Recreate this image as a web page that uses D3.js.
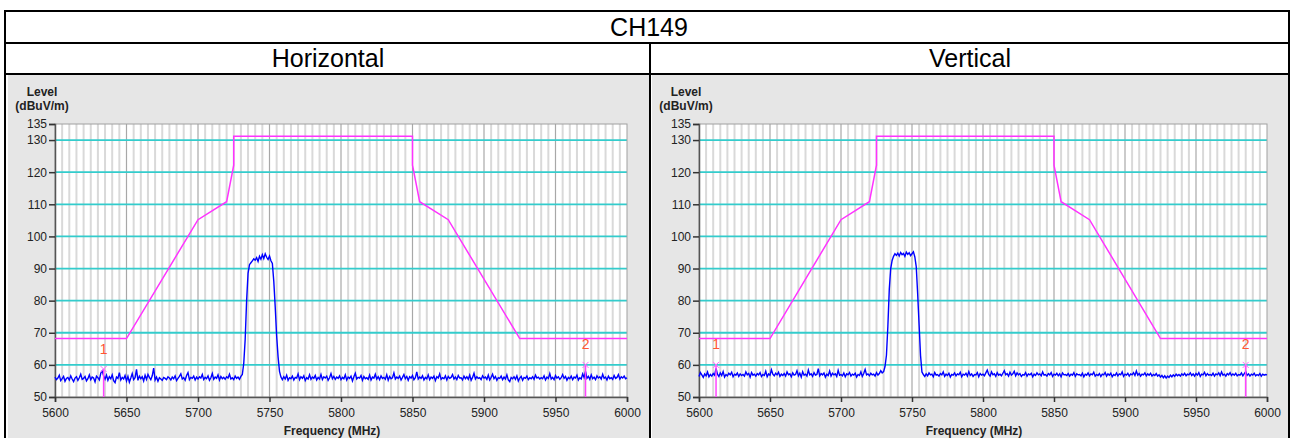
<!DOCTYPE html>
<html>
<head>
<meta charset="utf-8">
<script src="https://cdn.jsdelivr.net/npm/d3@7"></script>
<style>
  body { margin: 0; background: #fff; }
  text { font-family: Arial, "Liberation Sans", sans-serif; }
</style>
</head>
<body>
<div id="chart"></div>
<script>
// ---- data ----
var channel = "CH149";
var panelTitles = ["Horizontal", "Vertical"];
var yTicks = [50, 60, 70, 80, 90, 100, 110, 120, 130, 135];
var xTicks = [5600, 5650, 5700, 5750, 5800, 5850, 5900, 5950, 6000];

// limit mask (dBuV/m)
var limitFreq  = [5600, 5650, 5700, 5720, 5725, 5725, 5850, 5850, 5855, 5875, 5925, 6000];
var limitLevel = [68.2, 68.2, 105.2, 110.8, 122.2, 131.2, 131.2, 122.2, 110.8, 105.2, 68.2, 68.2];

// traces start at 5600 MHz, one value per MHz
var traceStart = 5600;
var horizontalTrace = [
  56.2,55.4,55.9,56.8,55.1,55.7,56.4,54.9,55.8,56.1,55.3,56.6,55.6,54.8,55.9,56.3,55.2,56.0,57.1,55.5,
  55.8,56.4,55.0,55.7,56.9,55.4,56.2,55.9,54.7,56.5,56.0,55.3,57.4,58.1,56.6,55.5,56.8,55.2,56.3,55.7,
  56.9,55.1,54.5,56.2,55.8,57.6,55.3,56.1,55.6,56.7,55.0,56.4,54.6,55.9,57.3,55.4,56.0,58.6,55.2,56.5,
  55.7,56.3,55.0,56.8,55.5,57.0,56.1,55.4,56.6,59.0,55.3,56.2,54.9,56.0,55.6,55.2,56.1,55.8,55.4,56.3,
  55.9,55.3,56.2,55.7,56.6,55.1,55.8,56.4,57.2,55.6,56.0,55.2,56.7,57.6,55.4,56.1,55.8,56.5,55.3,56.2,
  55.6,56.3,55.9,57.0,55.4,56.1,55.7,56.6,55.2,56.0,57.3,55.5,56.2,55.8,56.9,55.3,56.4,55.7,56.1,55.5,
  56.3,55.9,57.1,55.6,56.0,55.4,56.5,55.8,56.2,55.5,56.4,57.0,60.5,68.0,80.0,88.5,91.2,91.8,92.4,93.0,
  92.6,93.4,92.2,93.8,92.9,94.3,93.1,94.6,93.5,92.8,93.9,92.4,91.6,86.0,78.0,69.0,62.5,58.0,56.2,55.4,
  56.3,55.6,56.8,55.2,56.0,55.7,56.5,55.3,56.1,55.9,57.2,55.4,56.3,55.8,56.6,55.1,56.0,55.6,56.9,55.5,
  56.2,55.8,56.7,55.3,56.1,55.6,57.0,55.4,56.3,55.9,56.5,55.2,56.0,57.3,55.7,56.4,55.5,56.2,55.8,56.6,
  55.4,56.1,55.7,56.9,55.3,56.2,55.8,56.5,55.0,56.3,57.4,55.6,56.1,55.9,56.7,55.2,56.4,55.7,56.0,55.5,
  56.8,55.3,56.2,55.9,57.1,55.6,56.3,55.4,56.6,55.8,56.1,55.5,56.9,55.2,56.4,55.7,56.0,57.5,55.6,56.2,
  55.8,56.5,55.3,56.1,57.0,55.7,56.4,55.2,56.3,55.9,56.7,55.4,56.0,57.8,55.6,56.2,55.8,56.6,55.3,56.1,
  55.7,56.9,55.4,56.2,55.8,56.5,55.1,56.3,55.9,57.2,55.5,56.0,55.7,56.6,55.3,56.4,55.8,56.1,57.0,55.6,
  56.2,55.4,56.7,55.9,56.0,55.3,56.5,55.7,56.3,55.5,56.8,55.2,56.1,57.4,55.6,56.3,55.8,56.0,55.4,56.6,
  55.9,56.2,55.5,56.8,55.3,56.1,57.1,55.7,56.4,55.2,56.0,55.8,56.5,55.4,56.2,55.6,56.9,55.3,54.8,56.1,
  55.7,56.3,55.5,56.6,55.0,55.9,56.4,55.2,56.1,55.8,56.5,55.4,56.0,55.7,56.3,55.5,56.8,55.9,56.2,55.6,
  56.0,55.7,56.6,55.3,56.2,55.8,57.3,55.6,56.1,55.4,56.7,55.9,56.3,55.5,56.0,57.0,55.8,56.4,55.2,56.1,
  55.7,56.5,55.4,56.2,55.9,56.8,55.3,56.0,55.6,57.2,56.1,58.0,55.8,56.4,55.5,56.9,55.7,56.2,55.4,56.6,
  55.9,56.3,55.6,57.1,55.8,56.2,55.3,56.5,55.7,56.0,55.5,56.7,55.8,56.1,57.0,55.6,56.3,55.9,56.5,55.7,
  56.0
];
var verticalTrace = [
  56.4,57.6,56.9,56.1,57.2,56.6,57.8,56.3,57.0,56.5,57.3,56.8,58.9,57.1,56.4,57.5,56.7,57.9,56.2,57.0,
  56.6,57.4,56.9,57.7,56.3,57.1,56.8,57.5,56.4,57.2,56.7,57.0,56.5,57.8,56.9,57.3,56.2,57.6,56.8,57.1,
  56.5,57.3,56.9,57.6,56.4,57.0,56.7,58.0,56.3,57.2,56.8,58.5,57.1,56.6,57.4,56.9,57.7,56.4,57.1,56.7,
  57.3,56.5,57.8,56.9,57.2,56.3,57.5,56.8,57.0,58.2,56.6,57.4,56.2,57.9,56.8,57.1,56.5,58.4,56.9,57.2,
  56.4,57.6,56.8,57.0,58.8,56.6,57.3,56.9,57.5,56.2,57.1,56.7,58.1,56.5,57.4,56.9,57.2,56.4,58.3,56.8,
  57.0,56.6,57.5,56.3,57.2,56.9,57.6,56.5,57.1,56.8,57.4,56.2,57.0,56.7,57.8,56.4,57.3,58.6,56.9,57.2,
  56.6,57.4,56.9,57.1,56.5,57.6,56.8,57.3,58.2,57.5,57.9,59.5,63.0,72.0,83.5,90.0,92.5,93.8,94.6,94.1,
  94.8,93.9,95.0,94.3,94.7,93.8,95.1,94.4,94.9,94.0,94.6,95.2,93.6,90.5,82.0,72.5,63.0,57.8,57.0,56.4,
  57.2,56.6,57.5,56.9,57.1,56.3,57.6,56.8,57.0,56.5,57.3,56.9,57.8,56.4,57.1,56.7,57.4,56.2,57.0,56.8,
  57.5,56.6,57.2,56.9,57.7,56.3,57.1,56.8,57.4,56.5,57.9,56.7,57.2,56.4,57.0,56.9,57.6,56.3,57.3,56.8,
  57.1,56.6,57.5,58.4,57.0,56.5,57.8,56.9,57.2,56.4,57.6,56.8,57.1,56.6,57.4,58.2,56.9,57.3,56.5,57.7,
  56.8,57.2,58.0,56.6,57.5,56.9,57.3,56.4,57.0,56.8,57.6,56.5,57.2,56.9,57.4,56.3,57.1,56.7,57.5,56.9,
  57.2,56.6,57.8,56.8,57.0,56.5,57.3,56.9,57.6,56.4,57.1,56.8,57.4,56.6,57.2,56.3,57.5,56.9,57.0,56.7,
  57.3,56.5,57.1,56.8,57.6,56.4,57.2,56.9,57.0,56.6,57.4,56.3,57.1,56.8,57.5,56.6,57.2,56.9,57.7,56.5,
  57.0,56.7,57.3,56.4,57.1,56.9,57.6,56.5,57.2,56.8,57.4,56.3,57.0,56.7,57.5,56.6,57.2,56.9,57.8,56.4,
  57.1,56.8,57.4,56.5,57.2,56.9,57.6,56.7,58.1,56.8,57.3,56.5,57.1,56.9,57.5,56.6,57.2,56.8,57.4,56.5,
  57.0,56.7,57.3,56.5,56.9,56.2,56.7,56.0,56.6,55.9,56.5,56.1,56.8,56.3,56.9,56.4,57.1,56.6,57.0,56.5,
  57.2,56.8,57.4,56.6,57.1,56.9,57.5,56.7,57.2,56.5,57.3,56.8,57.6,56.4,57.1,56.9,57.7,56.6,57.3,56.8,
  57.0,56.7,57.4,56.5,57.2,56.9,57.5,56.6,57.8,56.8,57.1,56.5,57.3,56.9,57.6,56.7,57.2,56.8,57.4,56.6,
  57.0,56.8,57.5,56.6,57.3,57.9,56.7,57.2,56.5,57.1,56.8,57.4,56.6,57.0,56.7,57.3,56.5,57.1,56.8,57.0,
  56.9
];

// markers: [label, frequency, level, label level]
var horizontalMarkers = [["1", 5634, 58.7, 65.1], ["2", 5971, 60.0, 66.5]];
var verticalMarkers   = [["1", 5612, 60.0, 66.6], ["2", 5985, 60.0, 66.4]];

// ---- layout ----
var W = 1293, H = 438;
var svg = d3.select("#chart").append("svg")
  .attr("width", W).attr("height", H);

// panel backgrounds
svg.append("rect").attr("x", 8).attr("y", 75).attr("width", 641).attr("height", 370).attr("fill", "#e6e6e6");
svg.append("rect").attr("x", 652).attr("y", 75).attr("width", 636).attr("height", 370).attr("fill", "#e6e6e6");

// table lines
var table = svg.append("g").attr("stroke", "#000").attr("stroke-width", 2).attr("fill", "none");
table.append("line").attr("x1", 5).attr("x2", 1290).attr("y1", 11).attr("y2", 11);
table.append("line").attr("x1", 5).attr("x2", 5).attr("y1", 10).attr("y2", 440);
table.append("line").attr("x1", 1289).attr("x2", 1289).attr("y1", 10).attr("y2", 440);
table.append("line").attr("x1", 5).attr("x2", 1290).attr("y1", 43).attr("y2", 43);
table.append("line").attr("x1", 5).attr("x2", 1290).attr("y1", 74).attr("y2", 74);
table.append("line").attr("x1", 650).attr("x2", 650).attr("y1", 43).attr("y2", 440);

svg.append("text").attr("x", 649).attr("y", 36).attr("text-anchor", "middle")
  .attr("font-size", 25).text(channel);
svg.append("text").attr("x", 328).attr("y", 67).attr("text-anchor", "middle")
  .attr("font-size", 25).text(panelTitles[0]);
svg.append("text").attr("x", 970).attr("y", 67).attr("text-anchor", "middle")
  .attr("font-size", 25).text(panelTitles[1]);

function drawPanel(left, right, trace, markers) {
  var x = d3.scaleLinear().domain([5600, 6000]).range([left, right]);
  var y = d3.scaleLinear().domain([50, 135]).range([397, 124]);
  var g = svg.append("g");

  g.append("rect").attr("x", left).attr("y", y(135))
    .attr("width", right - left).attr("height", y(50) - y(135)).attr("fill", "#fff");

  // minor vertical grid every 5 MHz
  g.append("g").selectAll("line").data(d3.range(5605, 6000, 5).filter(function(d) { return d % 50 != 0; }))
    .enter().append("line")
      .attr("x1", function(d) { return x(d); }).attr("x2", function(d) { return x(d); })
      .attr("y1", y(135)).attr("y2", y(50))
      .attr("stroke", "#d9d9d9").attr("stroke-width", 2);
  // major vertical grid
  g.append("g").selectAll("line").data(xTicks.slice(1, -1))
    .enter().append("line")
      .attr("x1", function(d) { return x(d); }).attr("x2", function(d) { return x(d); })
      .attr("y1", y(135)).attr("y2", y(50))
      .attr("stroke", "#a8a8a8").attr("stroke-width", 1.2);
  // horizontal grid
  g.append("g").selectAll("line").data(yTicks.filter(function(d) { return d > 50 && d < 135; }))
    .enter().append("line")
      .attr("x1", left).attr("x2", right)
      .attr("y1", function(d) { return y(d); }).attr("y2", function(d) { return y(d); })
      .attr("stroke", "#33cccc").attr("stroke-width", 1.8);

  // frame
  g.append("rect").attr("x", left).attr("y", y(135))
    .attr("width", right - left).attr("height", y(50) - y(135))
    .attr("fill", "none").attr("stroke", "#a0a0a0").attr("stroke-width", 1);

  // axes
  var yAxis = g.append("g").attr("transform", "translate(" + left + ",0)")
    .call(d3.axisLeft(y).tickValues(yTicks).tickSize(6).tickPadding(2));
  var xAxis = g.append("g").attr("transform", "translate(0," + y(50) + ")")
    .call(d3.axisBottom(x).tickValues(xTicks).tickFormat(d3.format("d")).tickSize(5).tickPadding(6));
  [yAxis, xAxis].forEach(function(a) {
    a.select(".domain").attr("stroke", "#555").attr("stroke-width", 1.5);
    a.selectAll(".tick line").attr("stroke", "#333").attr("stroke-width", 1.5);
    a.selectAll("text").attr("font-size", 12).attr("fill", "#222")
      .style("font-family", "Arial, 'Liberation Sans', sans-serif");
  });

  // trace
  var line = d3.line()
    .x(function(d, i) { return x(traceStart + i); })
    .y(function(d) { return y(d); });
  g.append("path").datum(trace)
    .attr("d", line).attr("fill", "none")
    .attr("stroke", "#0000ff").attr("stroke-width", 1.4);

  // limit
  var limitLine = d3.line()
    .x(function(d) { return x(d[0]); })
    .y(function(d) { return y(d[1]); });
  g.append("path").datum(d3.zip(limitFreq, limitLevel))
    .attr("d", limitLine).attr("fill", "none")
    .attr("stroke", "#ff33ff").attr("stroke-width", 1.5);

  // markers
  markers.forEach(function(m) {
    var mx = x(m[1]), my = y(m[2]);
    g.append("line").attr("x1", mx).attr("x2", mx).attr("y1", my).attr("y2", y(50))
      .attr("stroke", "#ff44ff").attr("stroke-width", 1.5);
    g.append("path").attr("d", "M" + (mx - 3) + "," + (my - 3) + "L" + (mx + 3) + "," + (my + 3) +
        "M" + (mx + 3) + "," + (my - 3) + "L" + (mx - 3) + "," + (my + 3))
      .attr("stroke", "#ff66ff").attr("stroke-width", 1);
    g.append("text").attr("x", mx).attr("y", y(m[3]) + 5).attr("text-anchor", "middle")
      .attr("font-size", 14).attr("fill", "#ff5533").text(m[0]);
  });

  // axis titles
  g.append("text").attr("x", left - 13).attr("y", 96).attr("text-anchor", "middle")
    .attr("font-size", 12).attr("font-weight", "bold").attr("fill", "#222").text("Level");
  g.append("text").attr("x", left - 13).attr("y", 110).attr("text-anchor", "middle")
    .attr("font-size", 12).attr("font-weight", "bold").attr("fill", "#222").text("(dBuV/m)");
  g.append("text").attr("x", (left + right) / 2 - 9).attr("y", 435).attr("text-anchor", "middle")
    .attr("font-size", 12).attr("font-weight", "bold").attr("fill", "#222").text("Frequency (MHz)");
}

drawPanel(55, 627, horizontalTrace, horizontalMarkers);
drawPanel(699, 1267, verticalTrace, verticalMarkers);
</script>
</body>
</html>
